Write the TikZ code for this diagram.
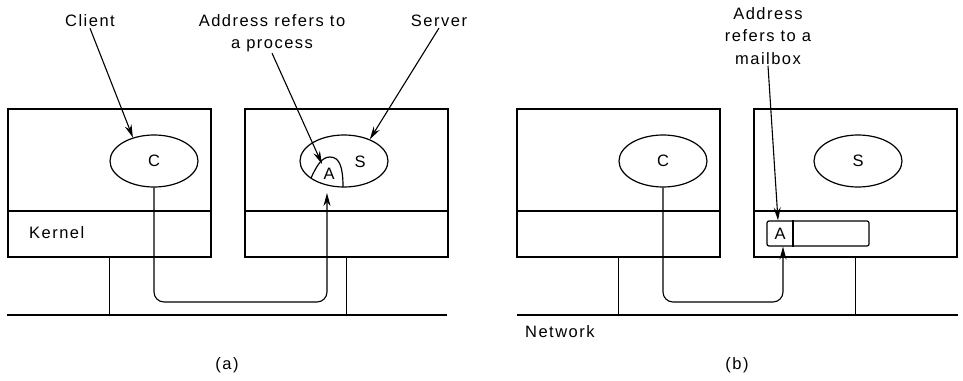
\documentclass[tikz,border=0pt]{standalone}
\usepackage{fontspec}
\setmainfont{Liberation Sans}[LetterSpace=9]
\usetikzlibrary{arrows.meta,shapes.geometric}

\begin{document}
\begin{tikzpicture}
[x=1pt,y=-1pt,
  machineBox/.style={draw,line width=1.8pt,minimum width=203pt,minimum height=148pt,inner sep=0pt},%
  procEllipse/.style={draw,ellipse,line width=1.2pt,minimum width=88pt,minimum height=52pt,inner sep=0pt},%
  lineDecorate/.style={line width=1.4pt},%
  arrowDecorate/.style={line width=1.1pt,-{Stealth[length=13pt,width=7pt]}},%
  labelText/.style={font=\fontsize{16.5}{22.5}\selectfont,align=center,inner sep=1pt}]
\useasboundingbox (0,0) rectangle (963,380);
%% machines, each with a kernel part
\foreach \boxname/\x in {a1/109.5, a2/346.5, b1/618.5, b2/855.5}
{
  \node (\boxname) at (\x,183) [machineBox] {};
  \draw[line width=1.8pt] (\boxname.west |- 0,211) -- (\boxname.east |- 0,211);
}
%% processes
\node (Ca) at (154,161) [procEllipse,labelText] {C};
\node (Sa) at (344,161) [procEllipse] {};
\node (SaLbl) at (360,162) [labelText] {S};
\node (Cb) at (663,161) [procEllipse,labelText] {C};
\node (Sb) at (858,161) [procEllipse,labelText] {S};
%% address inside the server process
\draw[line width=1.2pt] (311,178) .. controls (317,165) and (322,157) .. (330,157)
  .. controls (340,157) and (343,168) .. (343,187);
\node (Aa) at (329,174) [labelText] {A};
%% mailbox in the kernel
\node (mailB) at (818,233.5) [draw,line width=1.2pt,rounded corners=2pt,minimum width=102pt,minimum height=25pt,inner sep=0pt] {};
\draw[line width=1.2pt] (mailB.north -| 793,0) -- (mailB.south -| 793,0);
\node (Ab) at (780,234) [labelText] {A};
%% networks
\coordinate (netA1) at (7,315);
\coordinate (netA2) at (447,315);
\coordinate (netB1) at (517,315);
\coordinate (netB2) at (958,315);
\draw[line width=1.8pt] (netA1) -- (netA2);
\draw[line width=1.8pt] (netB1) -- (netB2);
\foreach \boxname/\netname in {a1/netA1, a2/netA1, b1/netB1, b2/netB1}
{
  \draw[lineDecorate] (\boxname.south) -- (\boxname.south |- \netname);
}
%% messages
\coordinate (bendA) at (327,302);
\coordinate (tipA) at (327,193);
\draw[arrowDecorate,rounded corners=10pt] (Ca.south) |- (bendA) -- (tipA);
\coordinate (bendB) at (783,302);
\coordinate (tipB) at (mailB.south -| 783,0);
\draw[arrowDecorate,rounded corners=10pt] (Cb.south) |- (bendB) -- (tipB);
%% labels
\node (clientLbl) at (90,21) [labelText] {Client};
\node (addrA) at (272,33) [labelText] {Address refers to\\a process};
\node (serverLbl) at (439,21) [labelText] {Server};
\node (addrB) at (768,36) [labelText] {Address\\refers to a\\mailbox};
\node (kernelLbl) at (28,233) [labelText,anchor=west] {Kernel};
\node (netLbl) at (524,332) [labelText,anchor=west] {Network};
\node (capA) at (227,365) [labelText] {(a)};
\node (capB) at (737,365) [labelText] {(b)};
%% pointers
\coordinate (lobeA) at (322,164);
\coordinate (slotB) at (mailB.north -| 778,0);
\draw[arrowDecorate] (clientLbl.south) -- (Ca.132);
\draw[arrowDecorate] (addrA.south) -- (lobeA);
\draw[arrowDecorate] (serverLbl.south) -- (Sa.40);
\draw[arrowDecorate] (addrB.south) -- (slotB);
\end{tikzpicture}
\end{document}
